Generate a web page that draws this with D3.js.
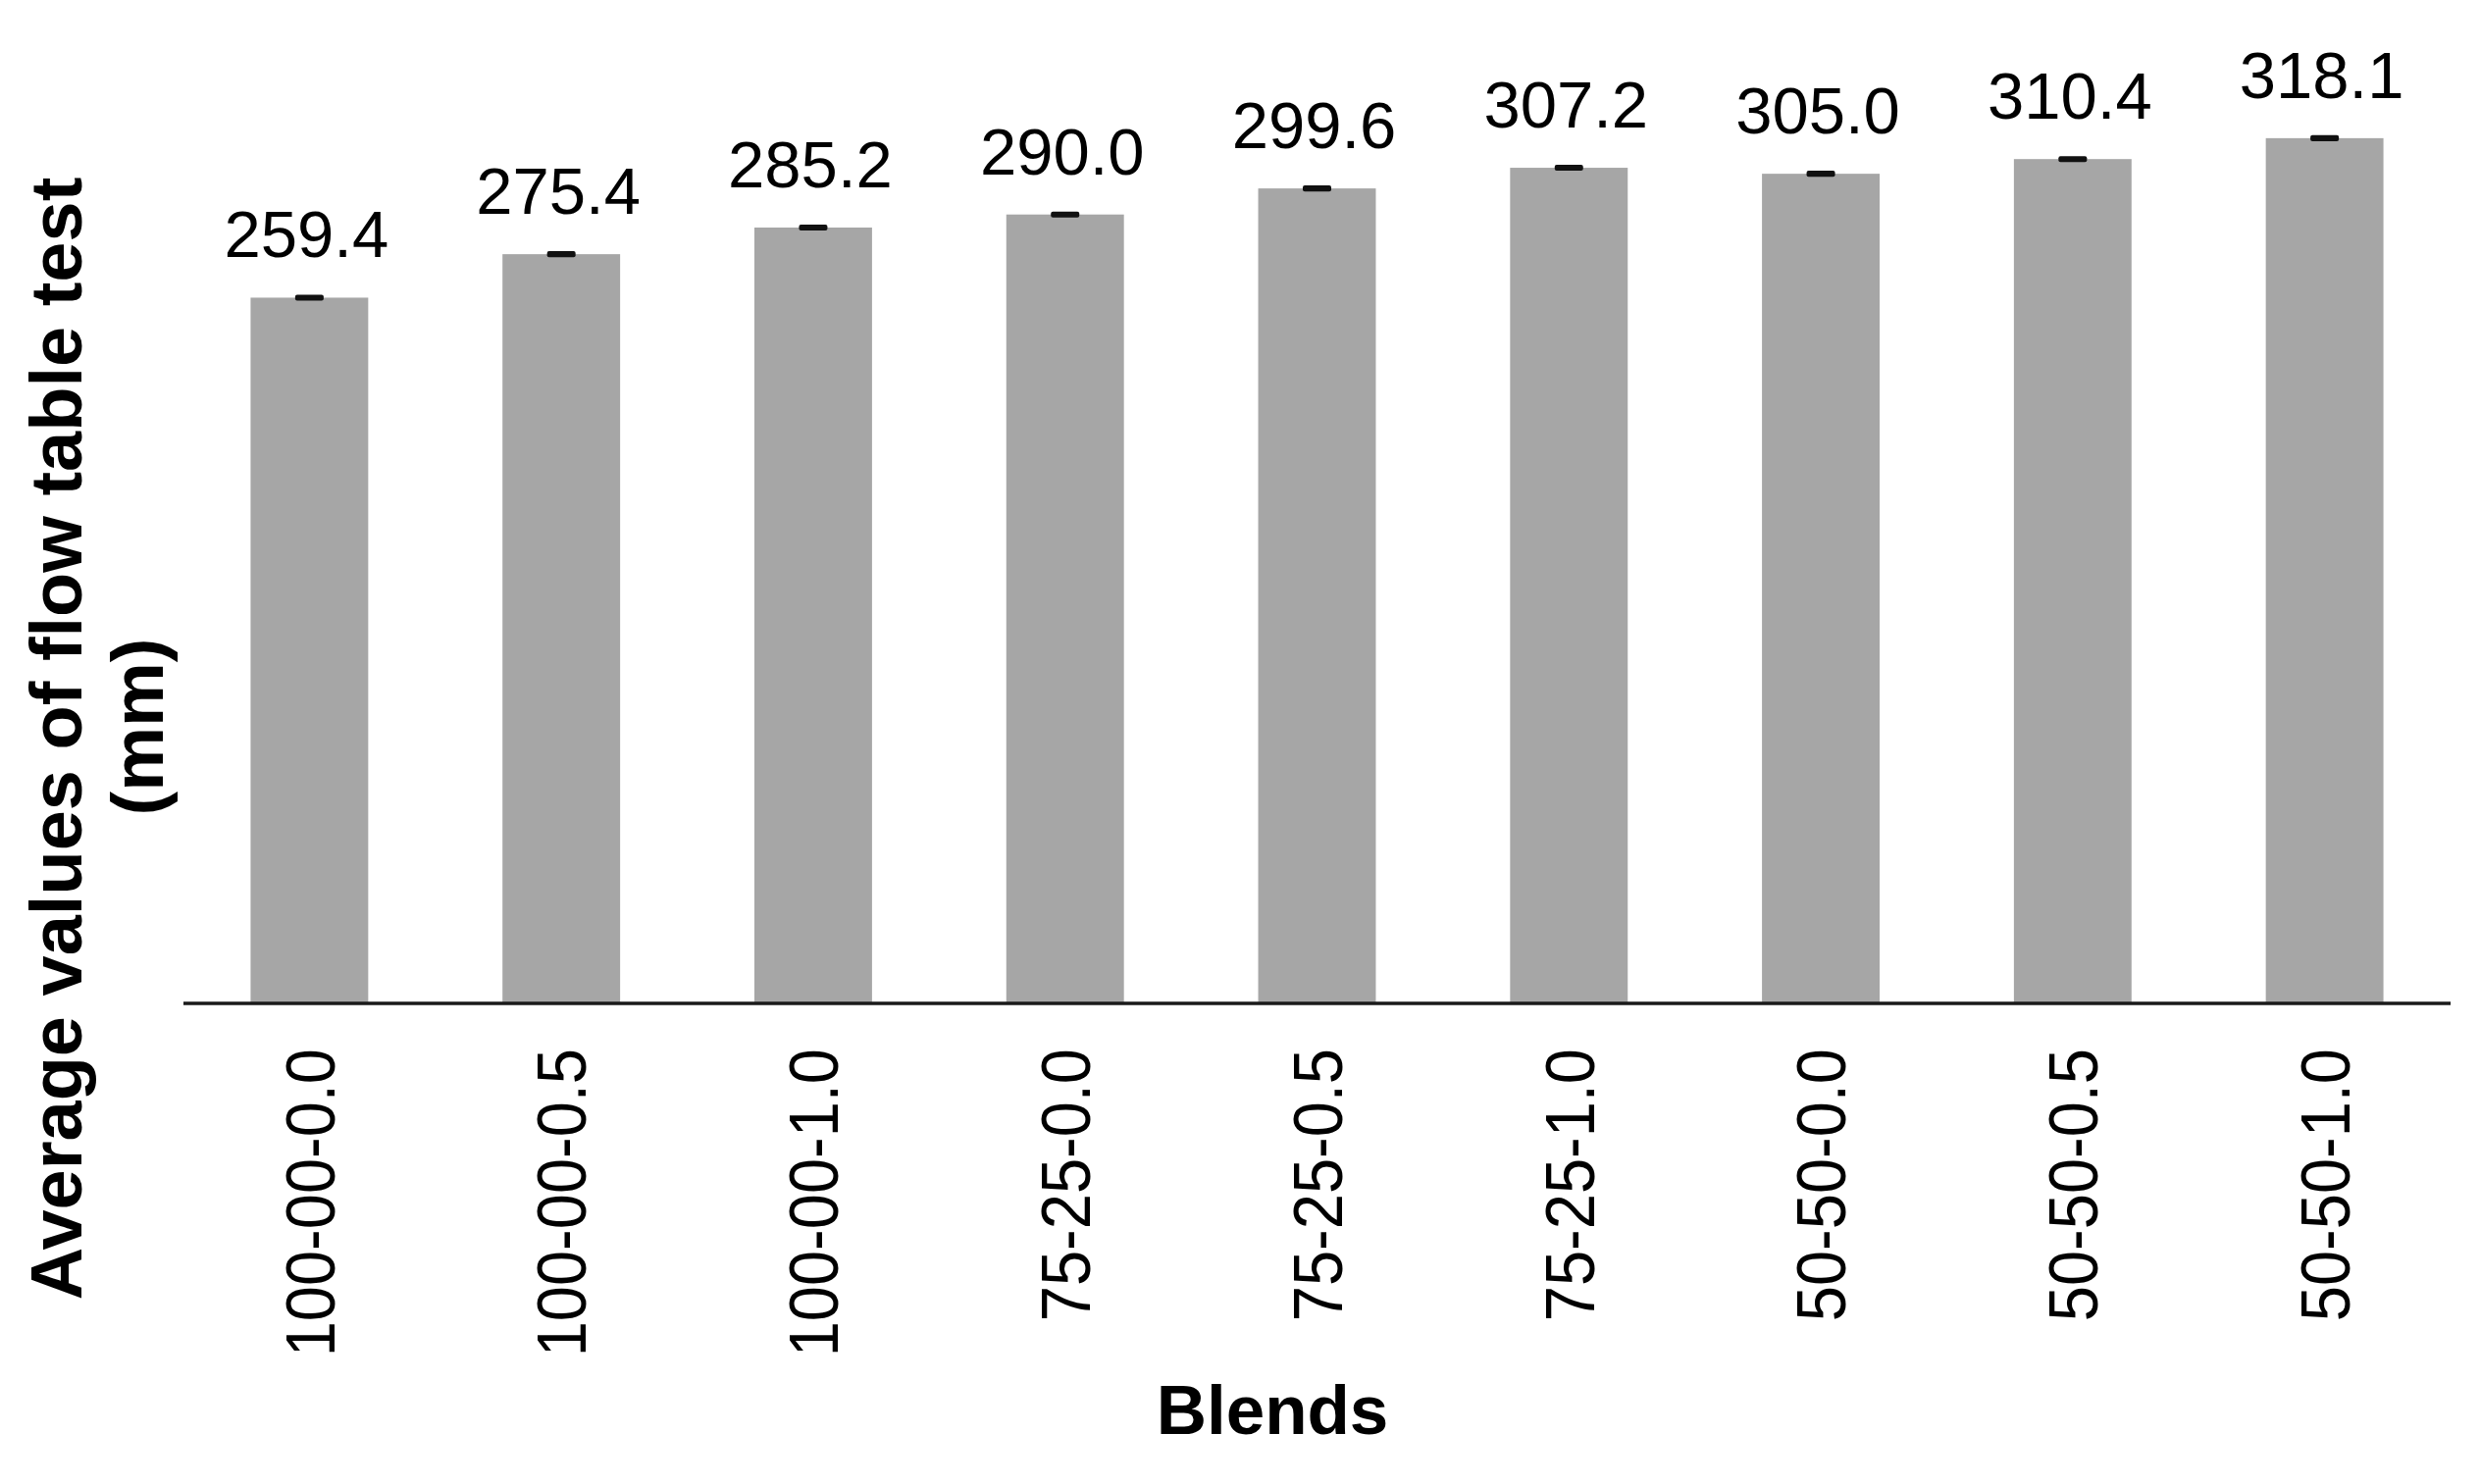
<!DOCTYPE html>
<html>
<head>
<meta charset="utf-8">
<script src="https://cdn.jsdelivr.net/npm/d3@7/dist/d3.min.js"></script>
<style>
  html, body { margin: 0; padding: 0; background: #ffffff; }
  svg { display: block; }
  text { font-family: "Liberation Sans", Arial, Helvetica, sans-serif; fill: #000; }
</style>
</head>
<body>
<svg id="chart" width="2528" height="1513"></svg>
<script>
// ---- data ----
const categories = ["100-00-0.0", "100-00-0.5", "100-00-1.0", "75-25-0.0", "75-25-0.5", "75-25-1.0", "50-50-0.0", "50-50-0.5", "50-50-1.0"];
const values = [259.4, 275.4, 285.2, 290.0, 299.6, 307.2, 305.0, 310.4, 318.1];
const errors = [1.1, 1.1, 1.1, 1.1, 1.1, 1.1, 1.1, 1.1, 1.1];
const valueLabels = ["259.4", "275.4", "285.2", "290.0", "299.6", "307.2", "305.0", "310.4", "318.1"];
const yTitleLines = ["Average values of flow table test", "(mm)"];
const xTitle = "Blends";

// ---- layout ----
const svg = d3.select("#chart");
const axisY = 1022;
const plotLeft = 187, plotRight = 2498;

const x = d3.scaleBand()
  .domain(categories)
  .range([plotLeft, plotRight])
  .paddingInner(0.533)
  .paddingOuter(0.2665);

const y = d3.scaleLinear()
  .domain([0, 350])
  .range([axisY, axisY - 350 * 2.77]);

const data = categories.map((c, i) => ({ c, v: values[i], e: errors[i], label: valueLabels[i] }));

// bars
svg.append("g").selectAll("rect")
  .data(data)
  .enter().append("rect")
  .attr("x", d => x(d.c))
  .attr("y", d => y(d.v))
  .attr("width", x.bandwidth())
  .attr("height", d => y(0) - y(d.v))
  .attr("fill", "#a6a6a6");

// error bars (very small)
const capW = 29;
svg.append("g").selectAll("rect")
  .data(data)
  .enter().append("rect")
  .attr("x", d => x(d.c) + x.bandwidth() / 2 - capW / 2)
  .attr("y", d => y(d.v + d.e))
  .attr("width", capW)
  .attr("height", d => y(d.v - d.e) - y(d.v + d.e))
  .attr("rx", 2)
  .attr("fill", "#111");

// value labels
svg.append("g").selectAll("text")
  .data(data)
  .enter().append("text")
  .attr("x", d => x(d.c) + x.bandwidth() / 2 - 3)
  .attr("y", d => y(d.v) - 41)
  .attr("text-anchor", "middle")
  .attr("font-size", 67)
  .text(d => d.label);

// x axis
const xAxis = d3.axisBottom(x).tickSize(0).tickPadding(0);
const gx = svg.append("g")
  .attr("transform", `translate(0,${axisY + 1})`)
  .call(xAxis);
gx.select(".domain")
  .attr("d", `M${plotLeft},0H${plotRight}`)
  .attr("stroke", "#1a1a1a")
  .attr("stroke-width", 3.5);
gx.selectAll(".tick text")
  .attr("font-family", "'Liberation Sans', Arial, Helvetica, sans-serif")
  .attr("font-size", 65)
  .attr("fill", "#000")
  .attr("text-anchor", "end")
  .attr("x", 0)
  .attr("y", 0)
  .attr("dy", "0.36em")
  .attr("transform", "translate(0,46) rotate(-90) scale(1,1.08)");

// y axis title
const yt = svg.append("text")
  .attr("transform", "translate(83,753) rotate(-90)")
  .attr("text-anchor", "middle")
  .attr("font-weight", "bold")
  .attr("font-size", 74);
yt.append("tspan").attr("x", 0).attr("y", 0).text(yTitleLines[0]);
yt.append("tspan").attr("x", 12).attr("y", 83).text(yTitleLines[1]);

// x axis title
svg.append("text")
  .attr("x", 1297)
  .attr("y", 1462)
  .attr("text-anchor", "middle")
  .attr("font-weight", "bold")
  .attr("font-size", 71)
  .text(xTitle);
</script>
</body>
</html>
